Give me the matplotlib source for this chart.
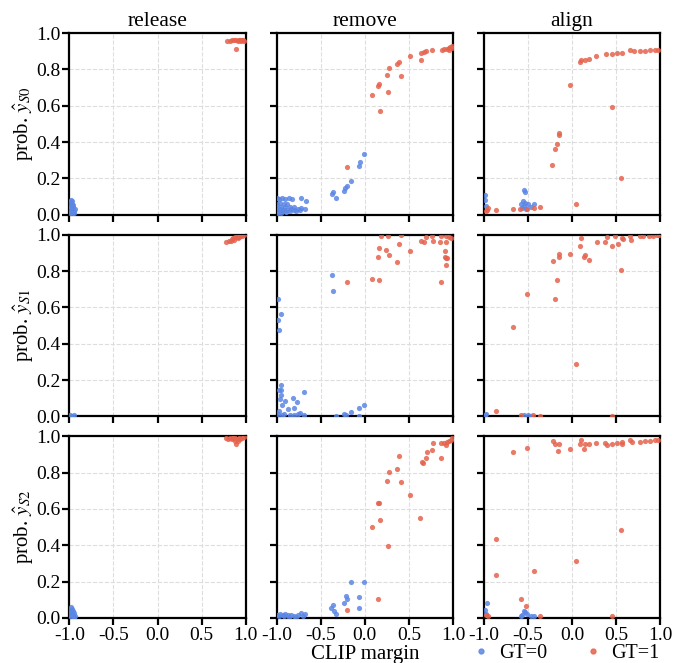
import matplotlib
matplotlib.use("Agg")
import matplotlib.pyplot as plt
from matplotlib.lines import Line2D
import numpy as np

plt.rcParams["font.family"] = ["Liberation Serif", "DejaVu Serif"]
plt.rcParams["mathtext.fontset"] = "stix"
plt.rcParams["axes.unicode_minus"] = False

# columns / rows
actions = ["release", "remove", "align"]
row_labels = [r"prob. $\hat{y}_{S0}$", r"prob. $\hat{y}_{S1}$", r"prob. $\hat{y}_{S2}$"]
xticks = [-1.0, -0.5, 0.0, 0.5, 1.0]
yticks = [0.0, 0.2, 0.4, 0.6, 0.8, 1.0]

# (CLIP margin, prob) pairs, GT=0 and GT=1
release_s0_neg = [(-0.99, 0.07), (-0.98, 0.08), (-0.97, 0.075), (-0.99, 0.05), (-0.97, 0.06),
                  (-0.96, 0.055), (-0.98, 0.04), (-0.96, 0.04), (-0.99, 0.03), (-0.97, 0.025),
                  (-0.95, 0.02), (-0.98, 0.015), (-0.99, 0.01), (-0.97, 0.005), (-0.95, 0.01),
                  (-0.94, 0.03)]
release_s0_pos = [(0.79, 0.958), (0.82, 0.958), (0.85, 0.96), (0.87, 0.96), (0.89, 0.962),
                  (0.91, 0.958), (0.92, 0.96), (0.93, 0.962), (0.94, 0.96), (0.95, 0.958),
                  (0.96, 0.962), (0.97, 0.96), (0.98, 0.958), (0.89, 0.912)]

remove_s0_neg = [(-0.013, 0.334), (-0.059, 0.288), (-0.07, 0.266), (-0.161, 0.187),
                 (-0.202, 0.161), (-0.221, 0.145), (-0.232, 0.132), (-0.357, 0.125),
                 (-0.376, 0.114), (-0.323, 0.092), (-0.671, 0.075), (-0.724, 0.095),
                 (-0.99, 0.09), (-0.97, 0.085), (-0.94, 0.09), (-0.9, 0.088), (-0.86, 0.09),
                 (-0.82, 0.088), (-0.99, 0.06), (-0.96, 0.065), (-0.92, 0.06), (-0.88, 0.058),
                 (-0.99, 0.04), (-0.95, 0.045), (-0.9, 0.04), (-0.85, 0.042), (-0.8, 0.04),
                 (-0.99, 0.025), (-0.96, 0.03), (-0.92, 0.025), (-0.88, 0.028), (-0.84, 0.03),
                 (-0.8, 0.028), (-0.76, 0.03), (-0.72, 0.035), (-0.68, 0.03), (-0.97, 0.015),
                 (-0.93, 0.018), (-0.89, 0.015), (-0.85, 0.02), (-0.78, 0.02), (-0.74, 0.025),
                 (-0.99, 0.005), (-0.95, 0.008)]
remove_s0_pos = [(0.985, 0.917), (0.97, 0.925), (0.95, 0.92), (0.93, 0.91), (0.9, 0.915),
                 (0.88, 0.905), (0.99, 0.93), (0.96, 0.905), (0.766, 0.908), (0.697, 0.899),
                 (0.671, 0.895), (0.633, 0.89), (0.641, 0.85), (0.512, 0.872), (0.387, 0.842),
                 (0.369, 0.831), (0.274, 0.806), (0.248, 0.772), (0.414, 0.765), (0.161, 0.721),
                 (0.149, 0.71), (0.263, 0.677), (0.081, 0.661), (0.176, 0.572), (-0.198, 0.264)]

align_s0_neg = [(-0.985, 0.11), (-0.99, 0.08), (-0.98, 0.05), (-0.547, 0.138), (-0.535, 0.125),
                (-0.555, 0.073), (-0.53, 0.065), (-0.58, 0.06), (-0.5, 0.06), (-0.434, 0.059),
                (-0.57, 0.035), (-0.52, 0.03), (-0.47, 0.04), (-0.55, 0.05)]
align_s0_pos = [(0.094, 0.839), (0.1, 0.85), (0.151, 0.851), (0.189, 0.86), (0.275, 0.872),
                (0.389, 0.884), (0.453, 0.887), (0.51, 0.889), (0.566, 0.89), (0.66, 0.908),
                (0.7, 0.9), (0.774, 0.903), (0.83, 0.903), (0.887, 0.906), (0.94, 0.908),
                (0.98, 0.908), (-0.026, 0.714), (0.449, 0.596), (-0.143, 0.45), (-0.143, 0.44),
                (-0.17, 0.389), (-0.189, 0.361), (-0.223, 0.273), (0.551, 0.2), (0.045, 0.06),
                (-0.358, 0.04), (-0.434, 0.037), (-0.51, 0.033), (-0.585, 0.033), (-0.668, 0.029),
                (-0.857, 0.024), (-0.962, 0.028), (-0.98, 0.022), (-0.95, 0.035)]

release_s1_neg = [(-0.99, 0.005), (-0.97, 0.004), (-0.95, 0.006)]
release_s1_pos = [(0.78, 0.962), (0.81, 0.968), (0.84, 0.975), (0.86, 0.98), (0.88, 0.985),
                  (0.9, 0.988), (0.92, 0.99), (0.94, 0.993), (0.96, 0.995), (0.98, 0.997),
                  (0.83, 0.965), (0.87, 0.972), (0.91, 0.98)]

remove_s1_neg = [(-0.376, 0.779), (-0.361, 0.691), (-0.981, 0.646), (-0.955, 0.564),
                 (-0.985, 0.53), (-0.977, 0.473), (-0.947, 0.171), (-0.973, 0.144),
                 (-0.955, 0.147), (-0.95, 0.115), (-0.96, 0.097), (-0.69, 0.133), (-0.811, 0.101),
                 (-0.766, 0.079), (-0.909, 0.085), (-0.803, 0.046), (-0.868, 0.042),
                 (-0.936, 0.061), (-0.97, 0.03), (-0.98, 0.015), (-0.92, 0.015), (-0.85, 0.01),
                 (-0.8, 0.01), (-0.76, 0.012), (-0.73, 0.02), (-0.69, 0.005), (-0.94, 0.005),
                 (-0.331, 0.002), (-0.236, 0.011), (-0.21, 0.005), (-0.161, 0.022),
                 (-0.062, 0.046), (-0.013, 0.061), (-0.07, 0.004)]
remove_s1_pos = [(0.18, 0.991), (0.267, 0.994), (0.414, 0.996), (0.69, 0.987), (0.766, 0.994),
                 (0.86, 0.994), (0.917, 0.991), (0.955, 0.985), (0.973, 0.982), (0.633, 0.963),
                 (0.671, 0.958), (0.773, 0.963), (0.849, 0.959), (0.924, 0.959), (0.157, 0.926),
                 (0.244, 0.915), (0.387, 0.948), (0.512, 0.91), (0.149, 0.88), (0.274, 0.889),
                 (0.369, 0.849), (0.905, 0.908), (0.909, 0.88), (0.917, 0.871), (0.936, 0.871),
                 (0.924, 0.834), (0.868, 0.738), (0.078, 0.757), (0.157, 0.748), (-0.198, 0.742)]

align_s1_neg = [(-0.97, 0.015), (-0.985, 0.008), (-0.55, 0.005), (-0.5, 0.005), (-0.47, 0.004)]
align_s1_pos = [(0.106, 0.982), (0.283, 0.959), (0.396, 0.985), (0.483, 0.994), (0.566, 0.982),
                (0.58, 0.975), (0.66, 0.994), (0.668, 0.972), (0.766, 0.991), (0.81, 0.994),
                (0.87, 0.994), (0.92, 0.994), (0.96, 0.996), (0.99, 0.996), (0.377, 0.959),
                (0.521, 0.948), (0.457, 0.936), (0.094, 0.936), (0.151, 0.886), (0.14, 0.877),
                (0.192, 0.862), (-0.026, 0.892), (-0.143, 0.895), (-0.143, 0.88), (-0.219, 0.853),
                (0.555, 0.805), (-0.17, 0.748), (-0.189, 0.648), (-0.509, 0.672), (-0.668, 0.494),
                (0.045, 0.287), (-0.857, 0.028), (-0.577, 0.009), (-0.44, 0.009), (-0.365, 0.002),
                (0.453, 0.002)]

release_s2_neg = [(-0.98, 0.06), (-0.97, 0.05), (-0.99, 0.045), (-0.96, 0.04), (-0.98, 0.03),
                  (-0.95, 0.025), (-0.97, 0.02), (-0.99, 0.015), (-0.96, 0.01), (-0.94, 0.012),
                  (-0.98, 0.005), (-0.95, 0.004)]
release_s2_pos = [(0.78, 0.99), (0.8, 0.985), (0.82, 0.99), (0.84, 0.985), (0.86, 0.99),
                  (0.88, 0.975), (0.89, 0.96), (0.9, 0.985), (0.92, 0.99), (0.94, 0.985),
                  (0.96, 0.992), (0.98, 0.995), (0.87, 0.995), (0.91, 0.975)]

remove_s2_neg = [(-0.161, 0.199), (-0.013, 0.199), (-0.062, 0.113), (-0.217, 0.119),
                 (-0.2, 0.105), (-0.232, 0.08), (-0.07, 0.055), (-0.361, 0.071), (-0.38, 0.055),
                 (-0.35, 0.04), (-0.323, 0.022), (-0.99, 0.015), (-0.96, 0.02), (-0.93, 0.018),
                 (-0.9, 0.02), (-0.87, 0.015), (-0.84, 0.018), (-0.8, 0.012), (-0.76, 0.015),
                 (-0.72, 0.025), (-0.68, 0.02), (-0.97, 0.008), (-0.92, 0.008), (-0.86, 0.006),
                 (-0.78, 0.006), (-0.7, 0.01)]
remove_s2_pos = [(0.973, 0.982), (0.95, 0.975), (0.99, 0.99), (0.93, 0.97), (0.9, 0.965),
                 (0.86, 0.963), (0.917, 0.951), (0.773, 0.963), (0.766, 0.927), (0.701, 0.914),
                 (0.69, 0.883), (0.645, 0.859), (0.663, 0.854), (0.864, 0.883), (0.387, 0.89),
                 (0.365, 0.819), (0.274, 0.804), (0.248, 0.755), (0.414, 0.746), (0.512, 0.675),
                 (0.149, 0.631), (0.16, 0.631), (0.629, 0.552), (0.176, 0.539), (0.081, 0.499),
                 (0.259, 0.397), (0.153, 0.106), (-0.198, 0.046)]

align_s2_neg = [(-0.962, 0.082), (-0.992, 0.042), (-0.98, 0.02), (-0.547, 0.037),
                (-0.53, 0.03), (-0.57, 0.015), (-0.51, 0.02), (-0.47, 0.012), (-0.434, 0.01),
                (-0.58, 0.008)]
align_s2_pos = [(-0.219, 0.973), (-0.19, 0.958), (-0.143, 0.956), (-0.162, 0.92), (-0.026, 0.932),
                (0.106, 0.978), (0.094, 0.96), (0.151, 0.956), (0.132, 0.932), (0.189, 0.96),
                (0.275, 0.965), (0.377, 0.963), (0.396, 0.952), (0.453, 0.96), (0.51, 0.963),
                (0.566, 0.969), (0.566, 0.956), (0.653, 0.982), (0.68, 0.97), (0.774, 0.969),
                (0.83, 0.972), (0.887, 0.975), (0.94, 0.982), (0.98, 0.982), (-0.668, 0.914),
                (-0.509, 0.936), (0.555, 0.484), (0.045, 0.316), (-0.857, 0.433),
                (-0.857, 0.238), (-0.434, 0.26), (-0.577, 0.106), (-0.521, 0.064),
                (-0.358, 0.009), (0.453, 0.009), (-0.97, 0.015), (-0.95, 0.008)]

panels = [
    [(release_s0_neg, release_s0_pos), (remove_s0_neg, remove_s0_pos), (align_s0_neg, align_s0_pos)],
    [(release_s1_neg, release_s1_pos), (remove_s1_neg, remove_s1_pos), (align_s1_neg, align_s1_pos)],
    [(release_s2_neg, release_s2_pos), (remove_s2_neg, remove_s2_pos), (align_s2_neg, align_s2_pos)],
]

blue = "#5b86e5"
red = "#e5634d"

fig, axes = plt.subplots(3, 3, figsize=(6.73, 6.63), dpi=100)
fig.subplots_adjust(left=0.103, right=0.981, top=0.95, bottom=0.068, wspace=0.175, hspace=0.11)

for r in range(3):
    for c in range(3):
        ax = axes[r, c]
        neg, pos = panels[r][c]
        neg = np.array(neg)
        pos = np.array(pos)
        ax.scatter(neg[:, 0], neg[:, 1], s=14, color=blue, alpha=0.85, linewidths=0, zorder=3)
        ax.scatter(pos[:, 0], pos[:, 1], s=14, color=red, alpha=0.85, linewidths=0, zorder=3)
        ax.set_xlim(-1, 1)
        ax.set_ylim(0, 1)
        ax.set_xticks(xticks)
        ax.set_yticks(yticks)
        ax.grid(True, linestyle="--", color="#dddddd", linewidth=0.8)
        ax.set_axisbelow(True)
        for sp in ax.spines.values():
            sp.set_linewidth(1.6)
        ax.tick_params(direction="out", length=5, width=1.6, labelsize=14, pad=1.5)
        if c == 0:
            ax.set_yticklabels([f"{t:.1f}" for t in yticks])
            ax.set_ylabel(row_labels[r], fontsize=15, labelpad=0)
        else:
            ax.set_yticklabels([])
        if r == 2:
            ax.set_xticklabels([f"{t:.1f}" for t in xticks])
        else:
            ax.set_xticklabels([])
        if r == 0:
            ax.set_title(actions[c], fontsize=15.5, pad=5)

axes[2, 1].set_xlabel("CLIP margin", fontsize=15, labelpad=1)

handles = [Line2D([], [], marker="o", linestyle="", color=blue, alpha=0.85, markersize=3.5),
           Line2D([], [], marker="o", linestyle="", color=red, alpha=0.85, markersize=3.5)]
fig.legend(handles, ["GT=0", "GT=1"], loc="center", bbox_to_anchor=(0.84, 0.014), ncol=2,
           frameon=False, fontsize=14.5, handlelength=1.0, handletextpad=0.4,
           columnspacing=1.8, borderaxespad=0, borderpad=0)

fig.savefig("out.png", dpi=100)
